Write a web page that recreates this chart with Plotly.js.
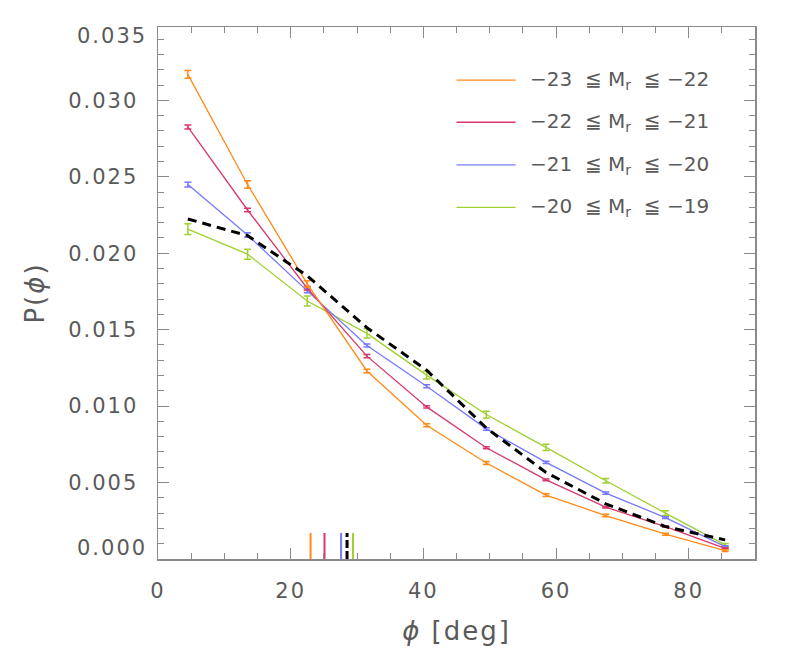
<!DOCTYPE html>
<html>
<head>
<meta charset="utf-8">
<script src="https://cdn.plot.ly/plotly-3.0.1.min.js"></script>
<style>
html,body{margin:0;padding:0;background:#fff;}
#chart{width:789px;height:671px;}
#chart .xtick text, #chart .ytick text { letter-spacing: 2px; }
#chart g.annotation[data-index="0"] text, #chart g.annotation[data-index="1"] text { letter-spacing: 2px; }
#chart .xtitle, #chart .ytitle { letter-spacing: 2px; }
</style>
</head>
<body>
<div id="chart"></div>
<script>
// ---- data ----
const phi = [4.5, 13.5, 22.5, 31.5, 40.5, 49.5, 58.5, 67.5, 76.5, 85.5];

const names = [
  "\u221223\u00a0\u00a0\u2266 M<sub>r</sub>\u00a0\u00a0\u2266 \u221222",
  "\u221222\u00a0\u00a0\u2266 M<sub>r</sub>\u00a0\u00a0\u2266 \u221221",
  "\u221221\u00a0\u00a0\u2266 M<sub>r</sub>\u00a0\u00a0\u2266 \u221220",
  "\u221220\u00a0\u00a0\u2266 M<sub>r</sub>\u00a0\u00a0\u2266 \u221219"
];

const pOrange  = [0.0317, 0.0245, 0.0180, 0.0123, 0.00875, 0.00628, 0.00418, 0.00284, 0.00162, 0.00055];
const eOrange  = [0.00025, 0.00025, 0.0002, 0.00012, 0.0001, 0.0001, 0.00009, 0.00008, 0.00007, 0.00006];
const pCrimson = [0.02826, 0.02283, 0.01771, 0.01327, 0.00995, 0.00728, 0.00518, 0.00339, 0.00212, 0.0007];
const eCrimson = [0.00013, 0.00012, 0.00012, 0.0001, 0.00008, 0.00007, 0.00006, 0.00005, 0.00005, 0.00004];
const pBlue    = [0.02449, 0.02119, 0.01754, 0.01397, 0.0113, 0.00851, 0.00632, 0.00431, 0.00271, 0.00081];
const eBlue    = [0.00015, 0.00015, 0.00012, 0.0001, 0.0001, 0.00008, 0.00008, 0.00007, 0.00006, 0.00005];
const pGreen   = [0.02158, 0.01994, 0.01688, 0.01476, 0.01203, 0.00945, 0.0073, 0.00512, 0.0030, 0.00092];
const eGreen   = [0.00035, 0.00033, 0.00033, 0.0003, 0.00025, 0.00022, 0.0002, 0.00015, 0.00015, 0.0001];
const pAll     = [0.02224, 0.02115, 0.01852, 0.01513, 0.01235, 0.00857, 0.00566, 0.00361, 0.00212, 0.00125];

// median markers at the bottom
const medians = [23.0, 25.1, 27.6, 29.4];
const medianAll = 28.5;
const markerTop = 0.0017;

const yTickVals = [0.005, 0.010, 0.015, 0.020, 0.025, 0.030];
const yTickText = ["0.005", "0.010", "0.015", "0.020", "0.025", "0.030"];
const yEndLabels = ["0.000", "0.035"];
const xTickVals = [0, 20, 40, 60, 80];

// ---- styles ----
const colors = ["#ff8a18", "#d8386a", "#7878ff", "#a0d030"];
const font = "DejaVu Sans";
const txt = "#5a5a5a";
const axc = "#8a8a8a";

const series = [pOrange, pCrimson, pBlue, pGreen];
const errs = [eOrange, eCrimson, eBlue, eGreen];

const traces = [];
// draw order: green, blue, crimson, orange
[3, 2, 1, 0].forEach(i => {
  traces.push({
    x: phi, y: series[i], type: "scatter", mode: "lines",
    name: names[i], showlegend: false,
    line: {color: colors[i], width: 1.3},
    error_y: {type: "data", array: errs[i], visible: true, color: colors[i], thickness: 1.5, width: 3.5}
  });
});
traces.push({
  x: phi, y: pAll, type: "scatter", mode: "lines", showlegend: false,
  line: {color: "#000", width: 3, dash: "9px,6px"}
});
medians.forEach((m, i) => {
  traces.push({
    x: [m, m], y: [0, markerTop], type: "scatter", mode: "lines", showlegend: false,
    line: {color: colors[i], width: 2}
  });
});
traces.push({
  x: [medianAll, medianAll], y: [0, markerTop], type: "scatter", mode: "lines", showlegend: false,
  line: {color: "#000", width: 3, dash: "8px,3px"}
});

const annotations = [];
// end tick labels of y axis (placed inside the range as in the original)
annotations.push({xref: "paper", yref: "y", x: 0, xshift: -14, y: 0.00072, xanchor: "right", yanchor: "middle",
  text: yEndLabels[0], showarrow: false, font: {family: font, size: 21, color: txt}});
annotations.push({xref: "paper", yref: "y", x: 0, xshift: -14, y: 0.03420, xanchor: "right", yanchor: "middle",
  text: yEndLabels[1], showarrow: false, font: {family: font, size: 21, color: txt}});

// custom legend (shapes + text) in paper coordinates
const shapes = [];
const legX0 = 0.500, legX1 = 0.599, legTxt = 0.620;
const legY = [0.9, 0.821, 0.741, 0.661];
names.forEach((n, i) => {
  shapes.push({type: "line", xref: "paper", yref: "paper", x0: legX0, x1: legX1, y0: legY[i], y1: legY[i],
    line: {color: colors[i], width: 1.3}});
  annotations.push({xref: "paper", yref: "paper", x: legTxt, y: legY[i], xanchor: "left", yanchor: "middle",
    text: n, showarrow: false, font: {family: font, size: 20, color: txt}});
});

const layout = {
  width: 789, height: 671,
  margin: {l: 158, r: 34, t: 27, b: 112},
  paper_bgcolor: "#fff", plot_bgcolor: "#fff",
  showlegend: false,
  xaxis: {
    range: [0, 90], tickvals: xTickVals, ticks: "inside", ticklen: 11, tickwidth: 1, tickcolor: axc,
    minor: {dtick: 5, tick0: 0, ticks: "inside", ticklen: 6, tickcolor: axc, tickwidth: 1, showgrid: false},
    showline: true, linecolor: axc, linewidth: 1.5, mirror: "ticks", showgrid: false, zeroline: false,
    tickfont: {family: font, size: 21, color: txt}, ticklabelstandoff: 12, automargin: true,
    title: {text: "<i>\u03d5</i> [deg]", font: {family: font, size: 26, color: txt}, standoff: 20}
  },
  yaxis: {
    range: [0, 0.0348], tickvals: yTickVals, ticktext: yTickText, ticks: "inside", ticklen: 11, tickwidth: 1, tickcolor: axc,
    minor: {dtick: 0.001, tick0: 0, ticks: "inside", ticklen: 6, tickcolor: axc, tickwidth: 1, showgrid: false},
    showline: true, linecolor: axc, linewidth: 1.5, mirror: "ticks", showgrid: false, zeroline: false,
    tickfont: {family: font, size: 21, color: txt}, ticklabelstandoff: 14, automargin: true,
    title: {text: "P(<i>\u03d5</i>)", font: {family: font, size: 26, color: txt}, standoff: 26}
  },
  shapes: shapes,
  annotations: annotations
};

Plotly.newPlot("chart", traces, layout, {displayModeBar: false, staticPlot: true});
</script>
</body>
</html>
